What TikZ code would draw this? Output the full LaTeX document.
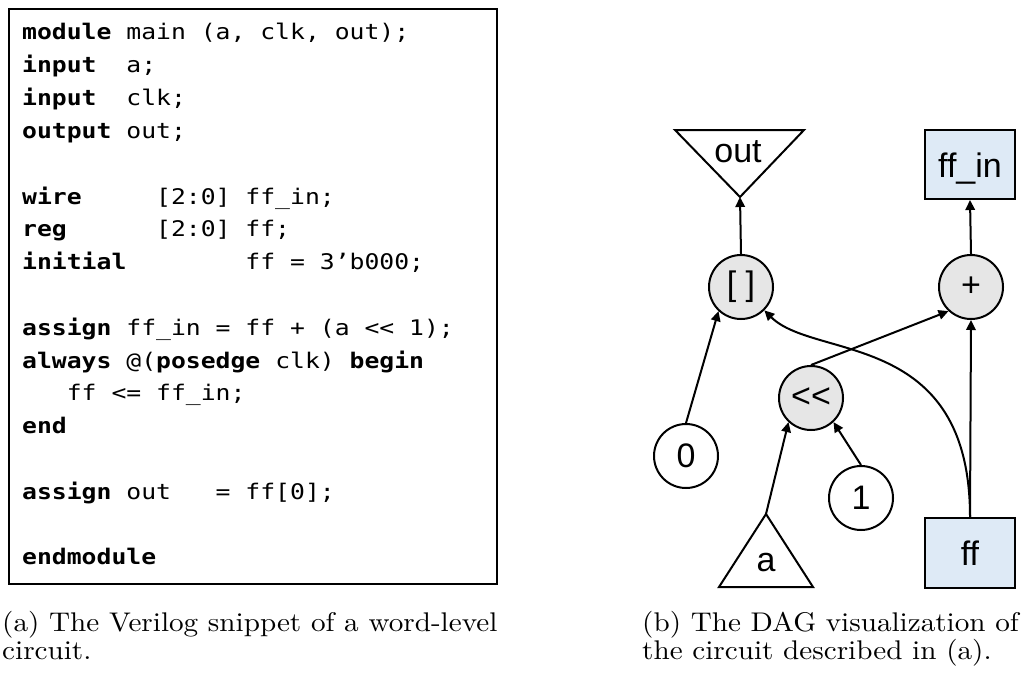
\documentclass[tikz,border=0pt]{standalone}
\usepackage{fontspec}
\usetikzlibrary{arrows.meta}

% Fonts: sans mono for the listing, Arial-like sans for graph labels,
% Computer Modern for the sub-captions.
\newfontfamily\codefont{DejaVu Sans Mono}[FakeStretch=1.15]
\newfontfamily\labelfont{Liberation Sans}[Ligatures=NoCommon]
\newfontfamily\capfont{lmroman10-regular}[Extension=.otf,FakeStretch=1.08]

\definecolor{opfill}{HTML}{E6E6E6}
\definecolor{regfill}{HTML}{DEEAF6}

\begin{document}
\begin{tikzpicture}[x=1pt,y=-1pt,
  wire/.style={line width=2pt, -{Triangle[length=10pt,width=9.5pt]}},
  op/.style={circle, draw, line width=2pt, fill=opfill, minimum size=64pt,
    inner sep=0pt, font=\labelfont\fontsize{34}{34}\selectfont},
  constnode/.style={op, fill=white},
  regbox/.style={rectangle, draw, line width=2pt, fill=regfill,
    minimum width=90pt, minimum height=69pt, inner sep=0pt,
    text height=25pt, text depth=0pt,
    font=\labelfont\fontsize{34}{34}\selectfont},
  port/.style={line width=2pt, line join=miter},
  portlabel/.style={anchor=base, inner sep=0pt,
    font=\labelfont\fontsize{34}{34}\selectfont},
  codeline/.style={anchor=base west, inner sep=0pt,
    font=\codefont\fontsize{21.5}{21.5}\selectfont},
  subcap/.style={anchor=base west, inner sep=0pt,
    font=\capfont\fontsize{27}{27}\selectfont}]

\useasboundingbox (0,0) rectangle (1022,677);

% ---------- (a) Verilog listing ----------
\draw[line width=2pt] (9,9) rectangle (497,584);
\foreach \k/\txt in {
  0/{\textbf{module} main (a, clk, out);},
  1/{\textbf{input}~~a;},
  2/{\textbf{input}~~clk;},
  3/{\textbf{output} out;},
  5/{\textbf{wire}~~~~~[2:0] ff\_in;},
  6/{\textbf{reg}~~~~~~[2:0] ff;},
  7/{\textbf{initial}~~~~~~~~ff = 3’b000;},
  9/{\textbf{assign} ff\_in = ff + (a <{}< 1);},
  10/{\textbf{always} @(\textbf{posedge} clk) \textbf{begin}},
  11/{~~~ff <= ff\_in;},
  12/{\textbf{end}},
  14/{\textbf{assign} out~~~= ff[0];},
  16/{\textbf{endmodule}}}
  \node[codeline] (line\k) at (22,{40+32.8*\k}) {\txt};

% ---------- (b) DAG ----------
% output port
\draw[port] (675,130) -- (804,130) -- (740,197) -- cycle;
\coordinate (outtip) at (740,197);
\node[portlabel] (out) at (738,162) {out};

% input port
\draw[port] (766,514) -- (813,587) -- (719,587) -- cycle;
\coordinate (atip) at (766,514);
\node[portlabel] (a) at (766,571) {a};

% operators, constants and registers
\node[op] (idx) at (741,287) {[ ]};
\node[op] (plus) at (971,287) {+};
\node[op] (shl) at (811,398) {<{}<};
\node[constnode] (zero) at (686,456) {0};
\node[constnode] (one) at (861,498) {1};
\node[regbox] (ffin) at (970,164.5) {ff\_in};
\node[regbox, minimum height=70pt] (ff) at (970,553) {ff};

% edges
\draw[wire] (idx.north) -- (outtip);
\draw[wire] (plus.north) -- (ffin.south);
\draw[wire] (zero.north) -- (idx.-133);
\draw[wire] (shl.north) -- (plus.-133);
\draw[wire] (atip) -- (shl.-133);
\draw[wire] (one.north) -- (shl.-47);
\draw[wire] (ff.north) -- (plus.south);
\draw[wire] (ff.north) .. controls +(0,-188) and +(50,50) .. (idx.-45);

% ---------- sub-captions ----------
\node[subcap] (capa1) at (2,631.5) {(a) The Verilog snippet of a word-level};
\node[subcap] (capa2) at (2,659) {circuit.};
\node[subcap] (capb1) at (642,631.5) {(b) The DAG visualization of};
\node[subcap] (capb2) at (642,659) {the circuit described in (a).};
\end{tikzpicture}
\end{document}
